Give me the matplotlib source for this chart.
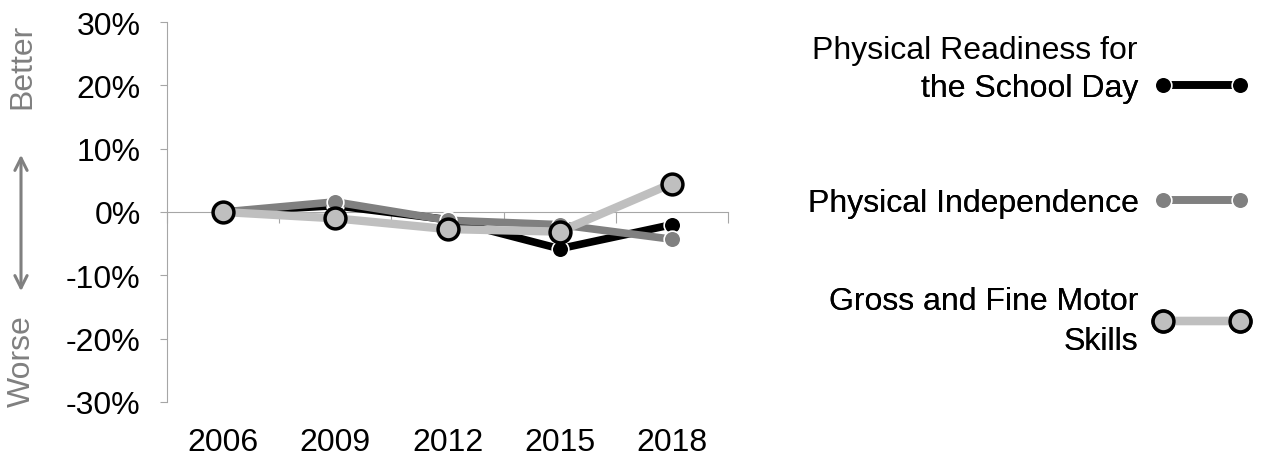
import matplotlib.pyplot as plt
from matplotlib.lines import Line2D
from matplotlib.legend_handler import HandlerLine2D

plt.rcParams['font.family'] = ['Liberation Sans', 'DejaVu Sans']

years = ["2006", "2009", "2012", "2015", "2018"]
readiness = [0.0, 1.0, -1.2, -5.8, -2.0]
independence = [0.0, 1.6, -1.3, -2.0, -4.3]
motor = [0.0, -1.0, -2.7, -3.1, 4.5]

axis_grey = "#a6a6a6"
fs = 23
W, H = 1267, 456

fig = plt.figure(figsize=(12.67, 4.56), dpi=100)
ax = fig.add_axes([167/W, 1 - 403/H, (728 - 167)/W, (403 - 23)/H])

x = range(len(years))
l1, = ax.plot(x, readiness, color="black", lw=5.5, marker="o", ms=12,
              mfc="black", mec="white", mew=1.2, zorder=3)
l2, = ax.plot(x, independence, color="#808080", lw=5.5, marker="o", ms=12,
              mfc="#808080", mec="white", mew=1.2, zorder=4)
l3, = ax.plot(x, motor, color="#bfbfbf", lw=6, marker="o", ms=15,
              mfc="#bfbfbf", mec="black", mew=2.5, zorder=5)

ax.set_xlim(-0.5, len(years) - 0.5)
ax.set_ylim(-30, 30)
ax.set_yticks(range(-30, 31, 10))
ax.set_yticklabels([f"{v}%" for v in range(-30, 31, 10)], fontsize=fs)
ax.tick_params(axis="y", length=5, color=axis_grey, pad=14)

for s in ["top", "right"]:
    ax.spines[s].set_visible(False)
ax.spines["left"].set_color(axis_grey)
ax.spines["bottom"].set_position(("data", 0))
ax.spines["bottom"].set_color(axis_grey)
ax.set_xticks([i - 0.5 for i in range(len(years) + 1)])
ax.set_xticklabels([])
ax.tick_params(axis="x", length=8, color=axis_grey, direction="out")

sec = ax.secondary_xaxis(0)
sec.set_xticks(list(x))
sec.set_xticklabels(years, fontsize=fs)
sec.tick_params(length=0, pad=18)
sec.spines["bottom"].set_visible(False)

# Better / Worse indicator
fig.text(22/W, 1 - 66/H, "Better", rotation=90, color="#808080",
         fontsize=fs, ha="center", va="center")
fig.text(22/W, 1 - 361/H, "Worse", rotation=90, color="#808080",
         fontsize=fs, ha="center", va="center")
ax.annotate("", xy=(21/W, 1 - 153/H), xytext=(21/W, 1 - 295/H),
            xycoords="figure fraction", textcoords="figure fraction",
            arrowprops=dict(arrowstyle="<->", color="#808080", lw=2.2,
                            mutation_scale=22))

# legend, one entry at a time
def entry(handle, label, y):
    leg = fig.legend([handle], [label], loc="center right",
                     bbox_to_anchor=(1240/W, 1 - y/H),
                     markerfirst=False, numpoints=2, handlelength=2.4,
                     handletextpad=0.78, frameon=False, fontsize=fs,
                     borderpad=0, borderaxespad=0,
                     handler_map={Line2D: HandlerLine2D(marker_pad=0)})
    for t in leg.get_texts():
        t.set_multialignment("right")
        t.set_linespacing(1.42)
    fig.add_artist(leg)

fig.text(1138/W, 1 - 59/H, "Physical Readiness for", fontsize=fs,
         ha="right", va="baseline")
entry(l1, "the School Day", 89)
entry(l2, "Physical Independence", 204)
entry(l3, "Gross and Fine Motor\nSkills", 322)

fig.savefig("out.png", dpi=100)
